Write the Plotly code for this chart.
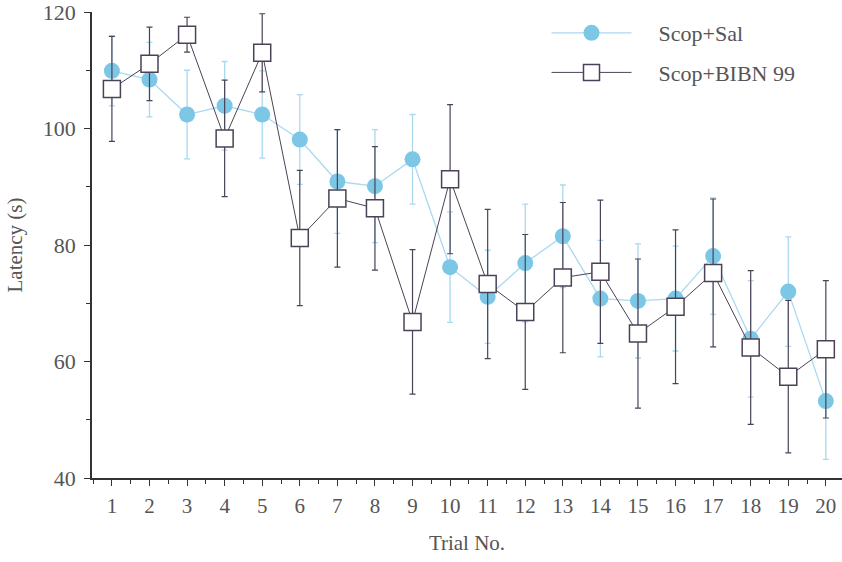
import plotly.graph_objects as go

trials = list(range(1, 21))
sal_mean = [109.9, 108.4, 102.4, 103.9, 102.4, 98.1, 90.9, 90.1, 94.7, 76.2,
            71.1, 76.9, 81.5, 70.8, 70.4, 70.8, 78.1, 63.9, 72.0, 53.2]
sal_err = [6.0, 6.4, 7.6, 7.6, 7.5, 7.7, 8.9, 9.7, 7.7, 9.5,
           8.0, 10.1, 8.8, 10.0, 9.8, 9.0, 10.0, 10.0, 9.4, 10.0]
bibn_mean = [106.8, 111.1, 116.1, 98.3, 113.0, 81.2, 88.0, 86.3, 66.8, 91.3,
             73.3, 68.5, 74.4, 75.4, 64.8, 69.4, 75.2, 62.4, 57.4, 62.1]
bibn_err = [9.0, 6.3, 3.0, 10.0, 6.7, 11.6, 11.8, 10.6, 12.4, 12.8,
            12.8, 13.3, 12.9, 12.3, 12.8, 13.2, 12.7, 13.2, 13.1, 11.8]

FONT = "Liberation Serif"
TXT = "#555555"
BLUE = "#7cc6e6"
BLUE_LINE = "#a9d9ef"
DARK = "#4b4257"
PAD = "\u00a0" * 4

fig = go.Figure()
fig.add_trace(go.Scatter(
    x=trials, y=sal_mean, name=PAD + "Scop+Sal", mode="lines+markers",
    line=dict(color=BLUE_LINE, width=1.3),
    marker=dict(symbol="circle", size=16, color=BLUE, line=dict(width=0)),
    error_y=dict(type="data", array=sal_err, color=BLUE_LINE, thickness=1.3, width=3),
    legendgroup="a",
))
fig.add_trace(go.Scatter(
    x=trials, y=bibn_mean, name=PAD + "Scop+BIBN 99", mode="lines+markers",
    line=dict(color=DARK, width=1),
    marker=dict(symbol="square", size=17, color="white", line=dict(color=DARK, width=1.5)),
    error_y=dict(type="data", array=bibn_err, color=DARK, thickness=1.2, width=3),
    legendgroup="b",
))

fig.update_layout(
    width=842, height=562,
    margin=dict(l=92, r=0, t=10, b=84),
    paper_bgcolor="white", plot_bgcolor="white",
    font=dict(family=FONT, size=21, color=TXT),
    showlegend=True,
    legend=dict(x=0.606, y=1.0, xanchor="left", yanchor="top",
                bgcolor="rgba(0,0,0,0)", itemwidth=80, tracegroupgap=8,
                font=dict(family=FONT, size=22, color=TXT)),
    xaxis=dict(range=[0.47, 20.43], tickmode="array", tickvals=trials,
               ticks="outside", ticklen=6, tickwidth=1.2, tickcolor="#333",
               showline=True, linecolor="#333", linewidth=1.5,
               showgrid=False, zeroline=False, ticklabelstandoff=2,
               minor=dict(dtick=0.5, tick0=0.5, ticks="outside", ticklen=4, tickcolor="#333"),
               title=dict(text="Trial No.", font=dict(size=21), standoff=18),
               tickfont=dict(size=21)),
    yaxis=dict(range=[40, 120], tickvals=[40, 60, 80, 100, 120],
               ticks="outside", ticklen=6, tickwidth=1.2, tickcolor="#333",
               showline=True, linecolor="#333", linewidth=1.5,
               showgrid=False, zeroline=False, ticklabelstandoff=4,
               ticklabeloverflow="allow",
               minor=dict(dtick=10, ticks="outside", ticklen=4, tickcolor="#333"),
               title=dict(text="Latency (s)", font=dict(size=21), standoff=14),
               tickfont=dict(size=22)),
)

fig.write_html("out.html")
